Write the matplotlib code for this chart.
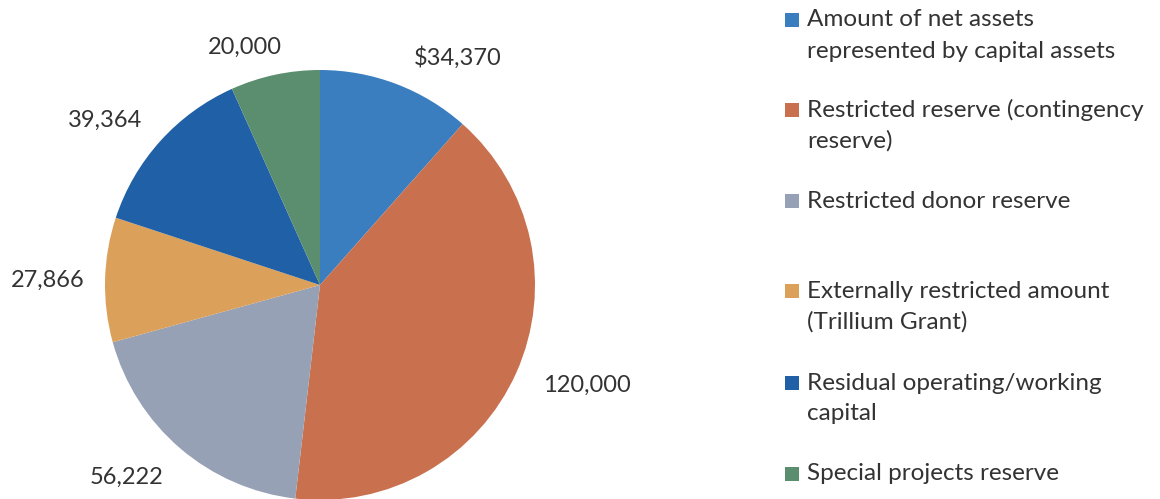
import matplotlib
matplotlib.use("Agg")
import matplotlib.pyplot as plt
from matplotlib.patches import Rectangle

plt.rcParams['font.family'] = ['Lato', 'DejaVu Sans']

categories = [
    "Amount of net assets\nrepresented by capital assets",
    "Restricted reserve (contingency\nreserve)",
    "Restricted donor reserve",
    "Externally restricted amount\n(Trillium Grant)",
    "Residual operating/working\ncapital",
    "Special projects reserve",
]
values = [34370, 120000, 56222, 27866, 39364, 20000]
value_labels = ["$34,370", "120,000", "56,222", "27,866", "39,364", "20,000"]
colors = ["#3b7ebf", "#c9704f", "#97a1b5", "#dba05a", "#1f60a6", "#5b8d6f"]

W, H = 1160, 499
fig = plt.figure(figsize=(W / 100, H / 100), dpi=100)
fig.patch.set_facecolor("white")

cx, cy, R = 320, 285, 215
lim = 1.45
side = 2 * lim * R
ax = fig.add_axes([(cx - lim * R) / W, (H - cy - lim * R) / H, side / W, side / H])
ax.pie(values, colors=colors, startangle=90, counterclock=False, radius=1,
       wedgeprops=dict(linewidth=0))
ax.set_xlim(-lim, lim)
ax.set_ylim(-lim, lim)
ax.set_aspect("equal")
ax.axis("off")

label_pos = [(0.642, 1.060), (1.242, -0.465), (-0.902, -0.893),
             (-1.265, 0.023), (-1.0, 0.767), (-0.349, 1.107)]
for (x, y), t in zip(label_pos, value_labels):
    ax.text(x, y, t, ha="center", va="center", fontsize=17, color="#333333", clip_on=False)

# legend
entry_y = [20, 110, 201, 291, 383, 474]
for c, lab, y in zip(colors, categories, entry_y):
    fig.patches.append(Rectangle((785 / W, (H - y - 7) / H), 14 / W, 14 / H,
                                 transform=fig.transFigure, facecolor=c, edgecolor="none"))
    for i, ln in enumerate(lab.split("\n")):
        fig.text(807 / W, (H - y - i * 31) / H, ln, ha="left", va="center",
                 fontsize=17.5, color="#333333")

fig.savefig("out.png", dpi=100, facecolor="white")
